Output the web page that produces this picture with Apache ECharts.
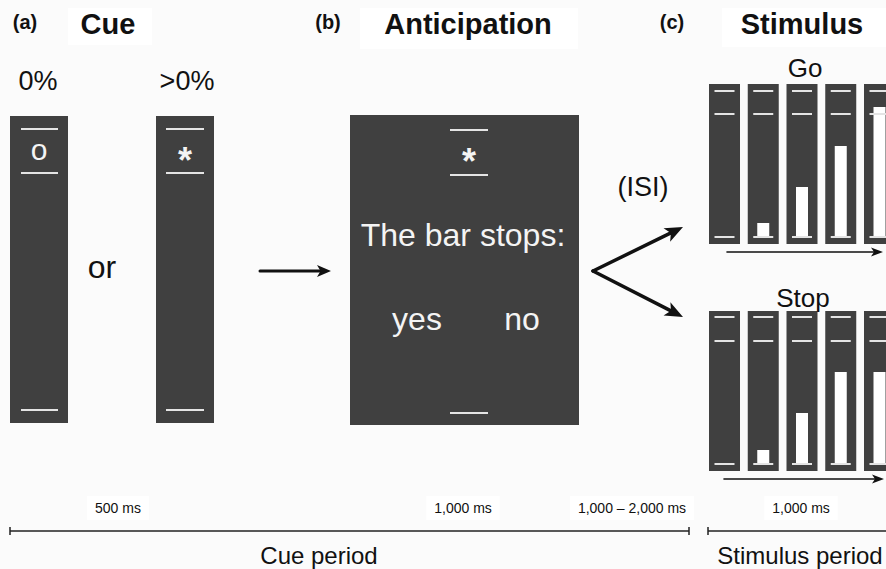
<!DOCTYPE html>
<html>
<head>
<meta charset="utf-8">
<style>
html, body { margin: 0; padding: 0; background: #fbfbfb; }
#chart { width: 886px; height: 569px; }
</style>
<script src="https://cdn.jsdelivr.net/npm/echarts@6/dist/echarts.min.js"></script>
</head>
<body>
<div id="chart"></div>
<script>
// ---- content of the figure ----
var stageTags = ['(a)', '(b)', '(c)'];
var stageTitles = ['Cue', 'Anticipation', 'Stimulus'];
var cueProbabilities = ['0%', '>0%'];
var cueSymbols = ['o', '*'];
var orWord = 'or';
var anticipationPrompt = 'The bar stops:';
var responseOptions = ['yes', 'no'];
var isiLabel = '(ISI)';
var trialTypes = ['Go', 'Stop'];
// height of the white bar in each of the five stimulus frames (units above the baseline)
var goBarHeights = [0, 14, 50, 91, 130];
var stopBarHeights = [0, 14, 51, 92, 92];
var durations = ['500 ms', '1,000 ms', '1,000 \u2013 2,000 ms', '1,000 ms'];
var periods = ['Cue period', 'Stimulus period'];

// ---- layout ----
var FONT = '"Liberation Sans", Arial, Helvetica, sans-serif';
var PANEL = '#404040';
var MARK = '#e4e4e4';
var INK = '#111';

var frameX0 = 709, framePitch = 38.75, frameW = 31, barW = 12;
var rows = [
  { top: 84, bottom: 244, lines: [91, 114], base: 237, heights: goBarHeights, label: trialTypes[0], labelY: 68, arrowY: 252 },
  { top: 311, bottom: 471, lines: [317, 341], base: 464, heights: stopBarHeights, label: trialTypes[1], labelY: 298, arrowY: 479 }
];

var boxes = [[68, 8, 152, 45], [360, 8, 578, 49], [722, 8, 890, 47]];
var panels = [[10, 116, 68, 423], [156, 116, 214, 423], [350, 115, 579, 425]];
var marks = [
  [21, 129, 58], [21, 173, 58], [21, 410, 58],
  [166, 129, 204], [166, 173, 204], [166, 410, 204],
  [450, 130, 488], [450, 175, 488], [450, 413, 488]
];
var bars = [];
rows.forEach(function (r) {
  for (var i = 0; i < 5; i++) {
    var x = frameX0 + i * framePitch;
    panels.push([x, r.top, x + frameW, r.bottom]);
    var c = x + frameW / 2;
    r.lines.concat([r.base]).forEach(function (y) { marks.push([c - 10, y, c + 10]); });
    if (r.heights[i] > 0) bars.push([c - barW / 2, r.base - r.heights[i], c + barW / 2, r.base + 1]);
  }
});

// [x, y, text, size, bold, white box]
var texts = [
  [25, 22, stageTags[0], 20, true], [108, 24, stageTitles[0], 29, true],
  [328, 22, stageTags[1], 20, true], [468, 24, stageTitles[1], 29, true],
  [672, 22, stageTags[2], 20, true], [802, 24, stageTitles[2], 29, true],
  [38, 81, cueProbabilities[0], 27], [187, 81, cueProbabilities[1], 27],
  [39, 149, cueSymbols[0], 30], [185, 160, cueSymbols[1], 36, true],
  [102, 267, orWord, 32],
  [469, 161, cueSymbols[1], 36, true],
  [463, 235, anticipationPrompt, 32],
  [417, 319, responseOptions[0], 32], [522, 319, responseOptions[1], 32],
  [643, 187, isiLabel, 27],
  [805, rows[0].labelY, rows[0].label, 26], [803, rows[1].labelY, rows[1].label, 26],
  [118, 508, durations[0], 14, false, true], [463, 508, durations[1], 14, false, true],
  [632, 508, durations[2], 14, false, true], [801, 508, durations[3], 14, false, true],
  [319, 555, periods[0], 24], [800, 555, periods[1], 24]
];

// [x0, y0, x1, y1, lineWidth, headLength, headWidth]
var arrows = [
  [260, 271, 331, 271, 3, 14, 12],
  [593, 271, 683, 227, 3.5, 18, 15],
  [593, 271, 683, 317, 3.5, 18, 15],
  [727, rows[0].arrowY, 883, rows[0].arrowY, 1.6, 12, 9],
  [724, rows[1].arrowY, 884, rows[1].arrowY, 1.6, 12, 9]
];

// timeline: [x0, x1, y, tick at start, tick at end]
var timeline = [[10, 689, 531, true, true], [708, 900, 531, true, false]];

function rectSeries(list, fill) {
  return {
    type: 'custom',
    silent: true,
    data: list.map(function (d) { return [d[0], d[1]]; }),
    renderItem: function (params, api) {
      var d = list[params.dataIndex];
      var p0 = api.coord([d[0], d[1]]);
      var p1 = api.coord([d[2], d[3]]);
      return { type: 'rect', shape: { x: p0[0], y: p0[1], width: p1[0] - p0[0], height: p1[1] - p0[1] }, style: { fill: fill } };
    }
  };
}

var chart = echarts.init(document.getElementById('chart'), null, { renderer: 'svg' });
chart.setOption({
  animation: false,
  backgroundColor: '#fbfbfb',
  grid: { left: 0, right: 0, top: 0, bottom: 0 },
  xAxis: { type: 'value', min: 0, max: 886, show: false },
  yAxis: { type: 'value', min: 0, max: 569, inverse: true, show: false },
  series: [
    rectSeries(boxes, '#ffffff'),
    rectSeries(panels, PANEL),
    rectSeries(bars, '#ffffff'),
    {
      type: 'custom',
      silent: true,
      data: marks.map(function (d) { return [d[0], d[1]]; }),
      renderItem: function (params, api) {
        var d = marks[params.dataIndex];
        var p0 = api.coord([d[0], d[1]]);
        var p1 = api.coord([d[2], d[1]]);
        return { type: 'line', shape: { x1: p0[0], y1: p0[1], x2: p1[0], y2: p1[1] }, style: { stroke: MARK, lineWidth: 2 } };
      }
    },
    {
      type: 'custom',
      silent: true,
      data: timeline.map(function (d) { return [d[0], d[2]]; }),
      renderItem: function (params, api) {
        var d = timeline[params.dataIndex];
        var p0 = api.coord([d[0], d[2]]);
        var p1 = api.coord([d[1], d[2]]);
        var kids = [{ type: 'line', shape: { x1: p0[0], y1: p0[1], x2: p1[0], y2: p1[1] }, style: { stroke: '#222', lineWidth: 1.5 } }];
        if (d[3]) kids.push({ type: 'line', shape: { x1: p0[0], y1: p0[1] - 4, x2: p0[0], y2: p0[1] + 4 }, style: { stroke: '#222', lineWidth: 1.5 } });
        if (d[4]) kids.push({ type: 'line', shape: { x1: p1[0], y1: p1[1] - 4, x2: p1[0], y2: p1[1] + 4 }, style: { stroke: '#222', lineWidth: 1.5 } });
        return { type: 'group', children: kids };
      }
    },
    {
      type: 'custom',
      silent: true,
      data: arrows.map(function (d) { return [d[0], d[1]]; }),
      renderItem: function (params, api) {
        var a = arrows[params.dataIndex];
        var p0 = api.coord([a[0], a[1]]);
        var p1 = api.coord([a[2], a[3]]);
        var dx = p1[0] - p0[0], dy = p1[1] - p0[1];
        var len = Math.sqrt(dx * dx + dy * dy);
        var ux = dx / len, uy = dy / len;
        var hl = a[5], hw = a[6] / 2;
        var bx = p1[0] - ux * hl, by = p1[1] - uy * hl;
        var nx = p1[0] - ux * hl * 0.75, ny = p1[1] - uy * hl * 0.75;
        return {
          type: 'group',
          children: [
            { type: 'line', shape: { x1: p0[0], y1: p0[1], x2: nx, y2: ny }, style: { stroke: INK, lineWidth: a[4], lineCap: 'round' } },
            { type: 'polygon', shape: { points: [[p1[0], p1[1]], [bx - uy * hw, by + ux * hw], [nx, ny], [bx + uy * hw, by - ux * hw]] }, style: { fill: INK } }
          ]
        };
      }
    },
    {
      type: 'custom',
      silent: true,
      z: 5,
      data: texts.map(function (d) { return [d[0], d[1]]; }),
      renderItem: function (params, api) {
        var t = texts[params.dataIndex];
        var p = api.coord([t[0], t[1]]);
        var onPanel = t[1] > 100 && t[1] < 430 && t[0] < 600 && t[2] !== orWord;
        var style = {
          text: t[2],
          font: (t[4] ? 'bold ' : '') + t[3] + 'px ' + FONT,
          fill: onPanel ? '#f4f4f4' : INK,
          align: 'center',
          verticalAlign: 'middle'
        };
        if (t[5]) { style.backgroundColor = '#ffffff'; style.padding = [5, 8]; }
        return { type: 'text', x: p[0], y: p[1], style: style };
      }
    }
  ]
});
</script>
</body>
</html>
